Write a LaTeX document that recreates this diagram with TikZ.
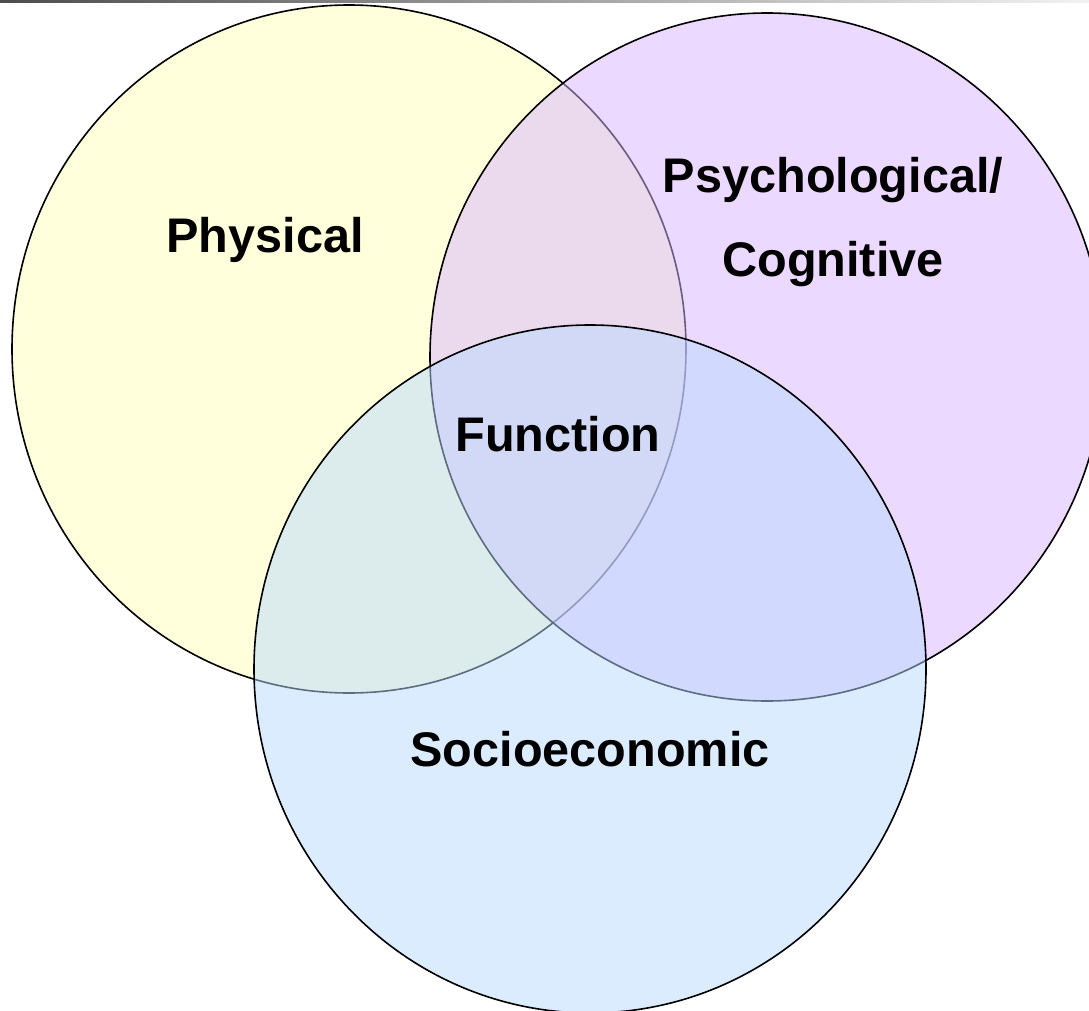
\documentclass[tikz,border=0pt]{standalone}
\usepackage{fontspec}
\setmainfont{Liberation Sans}
\definecolor{cyel}{RGB}{255,255,187}
\definecolor{cpur}{RGB}{216,180,255}
\definecolor{cblu}{RGB}{187,218,255}
\begin{document}
\begin{tikzpicture}[x=1pt,y=-1pt,
  venn/.style={draw=black,line width=1.6pt,fill opacity=0.5},
  lbl/.style={font=\fontsize{48.6}{84}\selectfont\bfseries,align=center,inner sep=0pt}]
\useasboundingbox (0,0) rectangle (1089,1011);
\fill[white] (0,0) rectangle (1089,1011);
\shade[left color=black!70,right color=black!5] (0,0) rectangle (1089,3);
\begin{scope}
\clip (0,3) rectangle (1089,1011);
\draw[venn,fill=cyel] (349,349) ellipse [x radius=337,y radius=344];
\draw[venn,fill=cpur] (767,357) ellipse [x radius=337,y radius=344];
\draw[venn,fill=cblu] (590,669) ellipse [x radius=336,y radius=344];
\end{scope}
\node[lbl] (phys) at (265,240) {Physical};
\node[lbl] (psy) at (833,222) {Psychological/\\Cognitive};
\node[lbl] (fun) at (558,434) {Function};
\node[lbl] (soc) at (590,749) {Socioeconomic};
\end{tikzpicture}
\end{document}
